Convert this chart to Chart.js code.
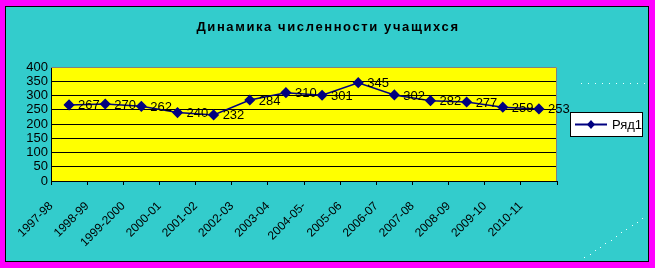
<!DOCTYPE html>
<html>
<head>
<meta charset="utf-8">
<script src="https://cdn.jsdelivr.net/npm/chart.js@4/dist/chart.umd.min.js"></script>
<style>
  html, body { margin: 0; padding: 0; background: #ff00ff; width: 655px; height: 268px; overflow: hidden; }
  #frame { position: absolute; left: 5px; top: 6px; width: 642px; height: 254px; border: 1px solid #000; background: #33cccc; }
  canvas { display: block; }
</style>
</head>
<body>
<div id="frame"><canvas id="chart" width="642" height="254"></canvas></div>
<script>
'use strict';

const TITLE = 'Динамика численности учащихся';
const SERIES_NAME = 'Ряд1';
const YEARS = ['1997-98','1998-99','1999-2000','2000-01','2001-02','2002-03','2003-04',
  '2004-05-','2005-06','2006-07','2007-08','2008-09','2009-10','2010-11'];
const STUDENTS = [267, 270, 262, 240, 232, 284, 310, 301, 345, 302, 282, 277, 259, 253];
const Y_MIN = 0, Y_MAX = 400, Y_STEP = 50;

const NAVY = '#000080';
const FONT = 'Arial, "Liberation Sans", sans-serif';

// yellow plot area, grey frame, title, legend, point labels
const decor = {
  id: 'decor',
  beforeDraw(chart) {
    const { ctx, chartArea: a } = chart;
    ctx.save();
    ctx.fillStyle = '#ffff00';
    ctx.fillRect(a.left, a.top, a.right - a.left, a.bottom - a.top);
    ctx.restore();
  },
  afterDatasetsDraw(chart) {
    const { ctx, chartArea: a } = chart;
    ctx.save();
    ctx.strokeStyle = '#808080';
    ctx.lineWidth = 1;
    ctx.beginPath();
    ctx.moveTo(a.left, a.top + 0.5);
    ctx.lineTo(a.right - 0.5, a.top + 0.5);
    ctx.lineTo(a.right - 0.5, a.bottom);
    ctx.stroke();

    // value labels
    ctx.fillStyle = '#000';
    ctx.font = '13px ' + FONT;
    ctx.textBaseline = 'middle';
    ctx.textAlign = 'left';
    const meta = chart.getDatasetMeta(0);
    meta.data.forEach((pt, i) => {
      ctx.fillText(String(STUDENTS[i]), pt.x + 9, pt.y + 1);
    });

    // title
    ctx.font = 'bold 13px ' + FONT;
    ctx.letterSpacing = '1.6px';
    ctx.textAlign = 'center';
    ctx.fillText(TITLE, 322, 20);
    ctx.letterSpacing = '0px';

    // legend box
    const lx = 564, ly = 105, lw = 73, lh = 25;
    ctx.fillStyle = '#fff';
    ctx.fillRect(lx, ly, lw, lh);
    ctx.strokeStyle = '#000';
    ctx.strokeRect(lx + 0.5, ly + 0.5, lw - 1, lh - 1);
    ctx.strokeStyle = NAVY;
    ctx.lineWidth = 2;
    ctx.beginPath();
    ctx.moveTo(lx + 5, ly + 12.5);
    ctx.lineTo(lx + 37, ly + 12.5);
    ctx.stroke();
    ctx.fillStyle = NAVY;
    ctx.beginPath();
    ctx.moveTo(lx + 21, ly + 8);
    ctx.lineTo(lx + 25, ly + 12.5);
    ctx.lineTo(lx + 21, ly + 17);
    ctx.lineTo(lx + 17, ly + 12.5);
    ctx.closePath();
    ctx.fill();
    ctx.fillStyle = '#000';
    ctx.font = '13px ' + FONT;
    ctx.textAlign = 'left';
    ctx.fillText(SERIES_NAME, lx + 42, ly + 13);

    // faint dotted decoration on the right
    ctx.fillStyle = '#e8ffff';
    for (let x = 575; x < 640; x += 7) ctx.fillRect(x, 76, 1, 1);
    for (let t = 0; t <= 1.001; t += 1 / 12) {
      ctx.fillRect(Math.round(573 + t * 63), Math.round(254 - t * 43), 1, 1);
    }
    ctx.restore();
  }
};

new Chart(document.getElementById('chart'), {
  type: 'line',
  data: {
    labels: YEARS,
    datasets: [{
      label: SERIES_NAME,
      data: STUDENTS,
      borderColor: NAVY,
      backgroundColor: NAVY,
      borderWidth: 1.5,
      pointStyle: 'rectRot',
      pointRadius: 4.5,
      pointHoverRadius: 4.5,
      pointBackgroundColor: NAVY,
      pointBorderColor: NAVY,
      tension: 0,
      fill: false,
    }],
  },
  options: {
    responsive: false,
    animation: false,
    events: [],
    layout: { padding: { top: 60, right: 91, left: 0, bottom: 0 } },
    plugins: {
      legend: { display: false },
      title: { display: false },
      tooltip: { enabled: false },
    },
    scales: {
      x: {
        offset: true,
        grid: { display: true, offset: true, drawOnChartArea: false, drawTicks: true, tickLength: 4, color: '#000' },
        border: { color: '#000', width: 1 },
        ticks: {
          color: '#000',
          font: { family: FONT, size: 12 },
          minRotation: 45,
          maxRotation: 45,
          autoSkip: false,
          padding: 14,
          labelOffset: -18,
        },
        afterFit(scale) { scale.height = 80; },
      },
      y: {
        min: Y_MIN,
        max: Y_MAX,
        grid: {
          drawTicks: false,
          color: ctx => (ctx.tick && ctx.tick.value === Y_MAX ? 'rgba(0,0,0,0)' : '#000'),
          lineWidth: 1,
        },
        border: { color: '#000', width: 1 },
        ticks: {
          stepSize: Y_STEP,
          autoSkip: false,
          color: '#000',
          font: { family: FONT, size: 13 },
          padding: 3,
        },
        afterFit(scale) { scale.width = 45; },
      },
    },
  },
  plugins: [decor],
});
</script>
</body>
</html>
